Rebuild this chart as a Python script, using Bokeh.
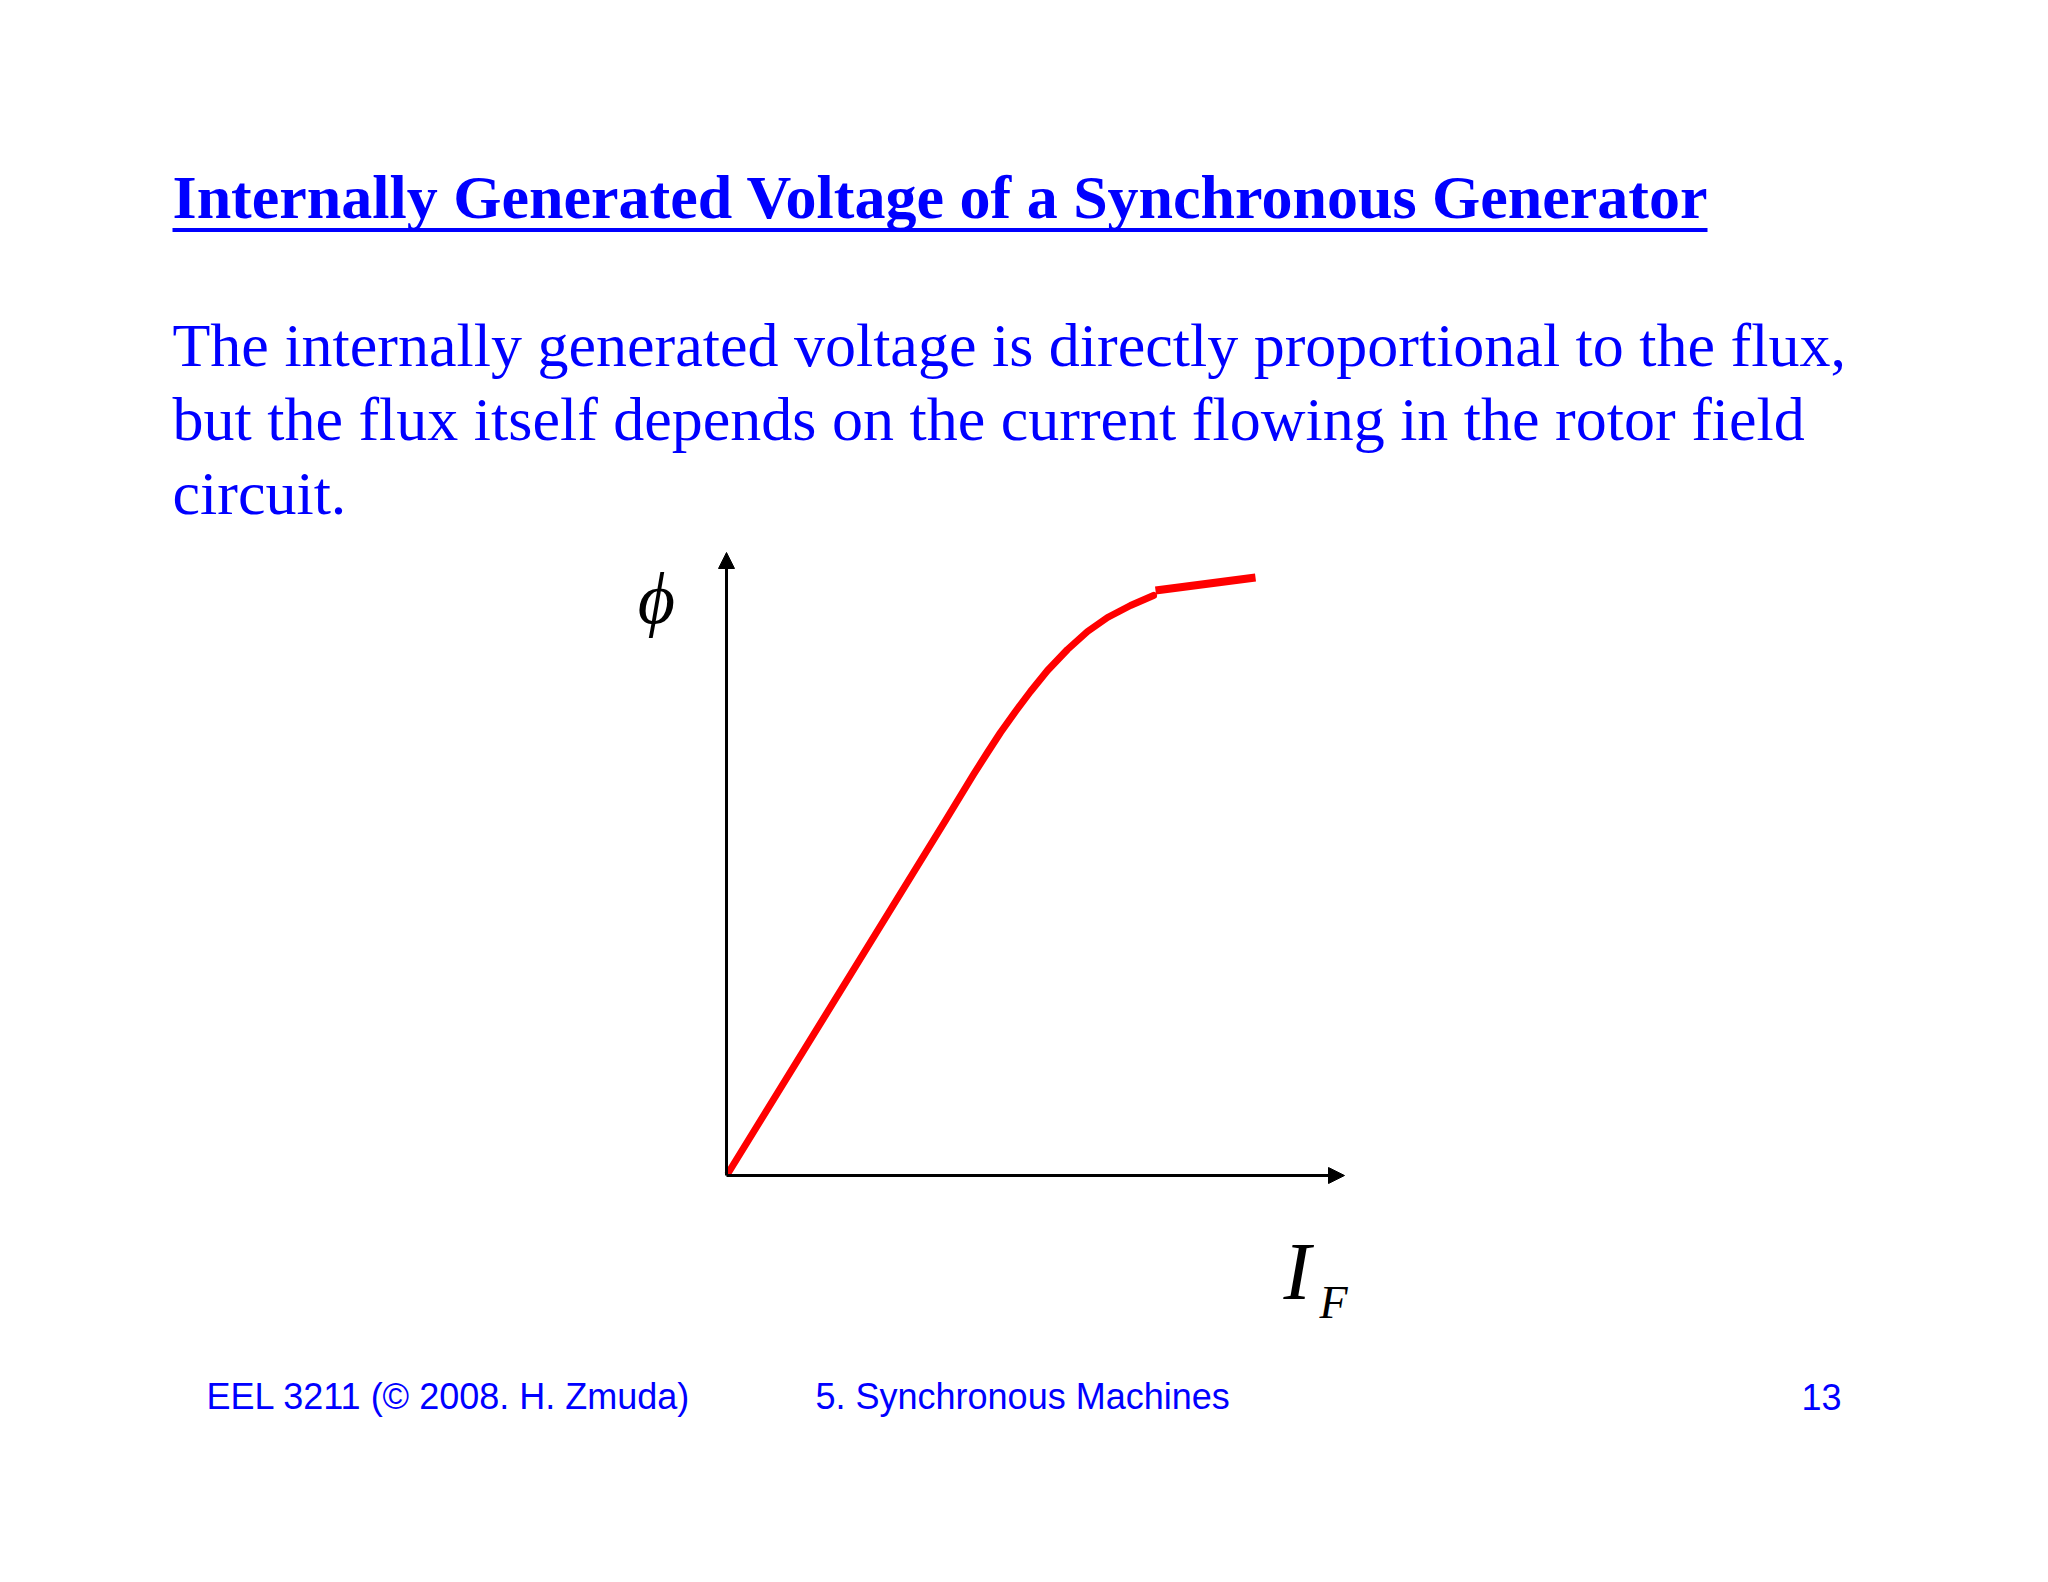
from bokeh.plotting import figure
from bokeh.models import Range1d, Label, Arrow, NormalHead, BoxAnnotation
from bokeh.embed import file_html
from bokeh.resources import INLINE

# ---- data (magnetization curve: flux vs field current, arbitrary units) ----
if_curve = [0.02, 2.19, 2.47, 2.61, 2.74, 2.89, 3.04, 3.21, 3.41, 3.61, 3.81, 4.04, 4.27]
phi_curve = [0.03, 3.55, 4.01, 4.23, 4.43, 4.64, 4.84, 5.05, 5.26, 5.44, 5.58, 5.70, 5.80]
if_sat = [4.29, 5.29]
phi_sat = [5.85, 5.98]
x_axis_end = 6.18
y_axis_end = 6.23

title_text = "Internally Generated Voltage of a Synchronous Generator"
body_lines = [
    "The internally generated voltage is directly proportional to the flux,",
    "but the flux itself depends on the current flowing in the rotor field",
    "circuit.",
]
footer_left = "EEL 3211 (\u00a9 2008. H. Zmuda)"
footer_mid = "5. Synchronous Machines"
footer_right = "13"

# ---- layout ----
W, H = 2032, 1566
OX, OY, UNIT = 726.0, 1175.0, 100.0  # page pixel of chart origin, px per unit
CANVAS_X, CANVAS_Y = 0, 0            # page pixel where the canvas starts
BASE_FIX = 0.38                      # baseline correction (fraction of font size)


def px(x):
    return (x - OX) / UNIT


def py(y):
    return (OY - y) / UNIT


def base(y, fs):
    return py(y - BASE_FIX * fs)


p = figure(width=W, height=H, output_backend="svg", toolbar_location=None,
           x_range=Range1d(px(CANVAS_X), px(CANVAS_X + W)),
           y_range=Range1d(py(CANVAS_Y + H), py(CANVAS_Y)),
           min_border=0)
p.axis.visible = False
p.grid.visible = False
p.outline_line_color = None
p.background_fill_color = "white"
p.border_fill_color = "white"

BLUE = "#0000FF"

# title + underline
p.add_layout(Label(x=px(172), y=base(220, 62), text=title_text, text_color=BLUE,
                   text_font="Liberation Serif", text_font_style="bold",
                   text_font_size="62px", text_baseline="alphabetic"))
p.add_layout(BoxAnnotation(left=px(172), right=px(1707), top=py(227.5), bottom=py(231.5),
                           fill_color=BLUE, fill_alpha=1, line_color=None))

for i, line in enumerate(body_lines):
    p.add_layout(Label(x=px(172), y=base(368 + 74 * i, 62), text=line, text_color=BLUE,
                       text_font="Liberation Serif", text_font_size="62px",
                       text_baseline="alphabetic"))

# axes with arrow heads
p.add_layout(Arrow(end=NormalHead(size=16, fill_color="black", line_color="black"),
                   x_start=0, y_start=0, x_end=x_axis_end, y_end=0,
                   line_width=3, line_color="black"))
p.add_layout(Arrow(end=NormalHead(size=16, fill_color="black", line_color="black"),
                   x_start=0, y_start=0, x_end=0, y_end=y_axis_end,
                   line_width=3, line_color="black"))

# curve
p.line(if_curve, phi_curve, line_color="#FF0000", line_width=7,
       line_join="round", line_cap="round")
p.line(if_sat, phi_sat, line_color="#FF0000", line_width=8, line_cap="butt")

# axis labels
p.add_layout(Label(x=px(656), y=base(626, 72), text="\u03d5", text_color="black",
                   text_font="Liberation Serif", text_font_style="italic",
                   text_font_size="72px", text_align="center", text_baseline="alphabetic"))
p.add_layout(Label(x=px(1283), y=base(1302, 82), text="I", text_color="black",
                   text_font="Liberation Serif", text_font_style="italic",
                   text_font_size="82px", text_baseline="alphabetic"))
p.add_layout(Label(x=px(1319), y=base(1319, 46), text="F", text_color="black",
                   text_font="Liberation Serif", text_font_style="italic",
                   text_font_size="46px", text_baseline="alphabetic"))

# footer
for txt, x, align in [(footer_left, 206, "left"), (footer_mid, 815, "left"),
                      (footer_right, 1841, "right")]:
    p.add_layout(Label(x=px(x), y=base(1410, 36), text=txt, text_color=BLUE,
                       text_font="Liberation Sans", text_font_size="36px",
                       text_align=align, text_baseline="alphabetic"))

open("out.html", "w").write(file_html(p, INLINE))
